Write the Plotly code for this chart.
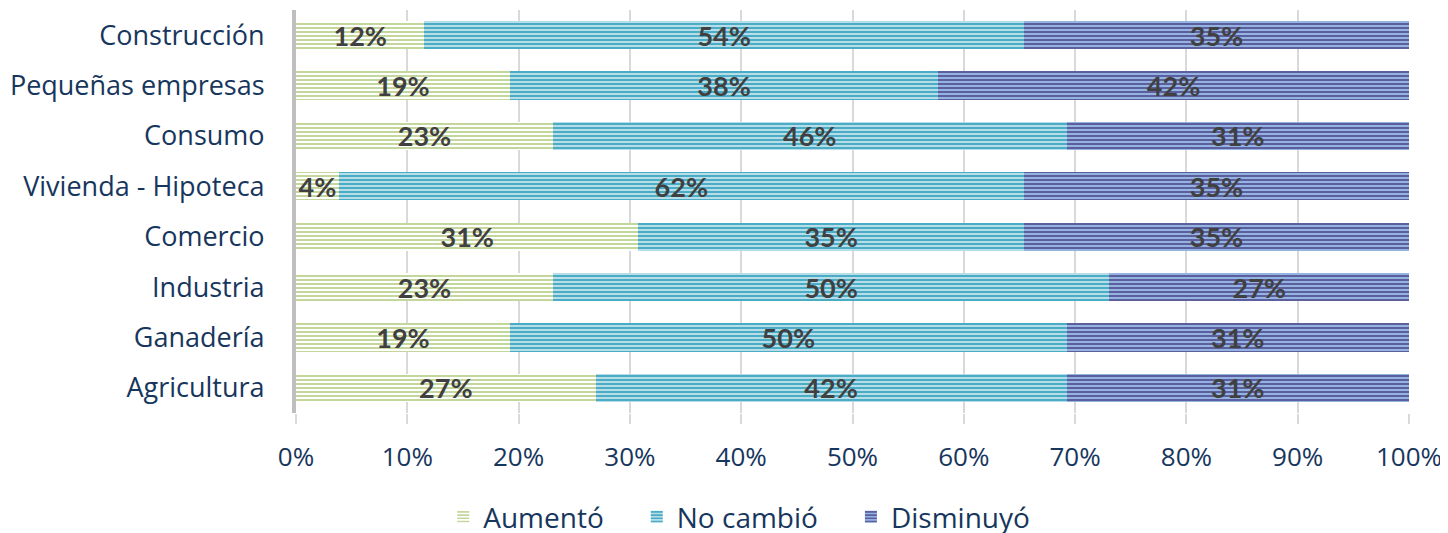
import plotly.graph_objects as go

categories = ["Agricultura", "Ganadería", "Industria", "Comercio",
              "Vivienda - Hipoteca", "Consumo", "Pequeñas empresas", "Construcción"]
aumento = [26.92, 19.23, 23.08, 30.77, 3.85, 23.08, 19.23, 11.54]
no_cambio = [42.31, 50.0, 50.0, 34.62, 61.54, 46.15, 38.46, 53.85]
disminuyo = [30.77, 30.77, 26.92, 34.62, 34.62, 30.77, 42.31, 34.62]
tick_vals = [0, 10, 20, 30, 40, 50, 60, 70, 80, 90, 100]
tick_text = [f"{v}%" for v in tick_vals]

series = [
    ("Aumentó", aumento, "#C3D69B", "#FFFFFF"),
    ("No cambió", no_cambio, "#4BACC6", "#B7DEE8"),
    ("Disminuyó", disminuyo, "#5C5E9E", "#93B3E0"),
]

fig = go.Figure()
for i, (name, vals, fg, bg) in enumerate(series):
    pad = "\u2003" if i < len(series) - 1 else ""
    fig.add_trace(go.Bar(
        name=name + pad, y=categories, x=vals, orientation="h",
        marker=dict(color=bg, line=dict(width=0),
                    pattern=dict(shape="-", fgcolor=fg, bgcolor=bg, size=4, solidity=0.5,
                                 fillmode="replace")),
        texttemplate="%{x:.0f}%", textposition="inside", insidetextanchor="middle",
        textangle=0, constraintext="none",
        textfont=dict(family="Lato", size=27, color="#404040", weight="bold"),
        hoverinfo="skip",
    ))

fig.update_layout(
    barmode="stack", bargap=0.44,
    width=1448, height=533,
    margin=dict(l=288, r=47, t=2, b=128),
    paper_bgcolor="white", plot_bgcolor="white",
    uniformtext=dict(minsize=27, mode="show"),
    font=dict(family="Open Sans", color="#17365D"),
    legend=dict(orientation="h", xref="container", yref="container",
                x=0.505, xanchor="center", y=0.045, yanchor="middle",
                font=dict(size=28, color="#17365D"), traceorder="normal",
                itemwidth=30),
    showlegend=True,
)
fig.update_xaxes(range=[0, 100], tickvals=tick_vals, ticktext=tick_text,
                 showgrid=True, gridcolor="#D9D9D9", gridwidth=2,
                 ticks="outside", ticklen=10, tickcolor="#D9D9D9", tickwidth=2,
                 ticklabelstandoff=11,
                 tickfont=dict(size=26, color="#17365D"), zeroline=False,
                 showline=False, automargin=False)
fig.update_yaxes(tickfont=dict(size=27, color="#17365D"), showline=True,
                 linecolor="#BFBFBF", linewidth=4, ticks="", ticklabelstandoff=22,
                 showgrid=False, automargin=False)

fig.write_html("out.html")
